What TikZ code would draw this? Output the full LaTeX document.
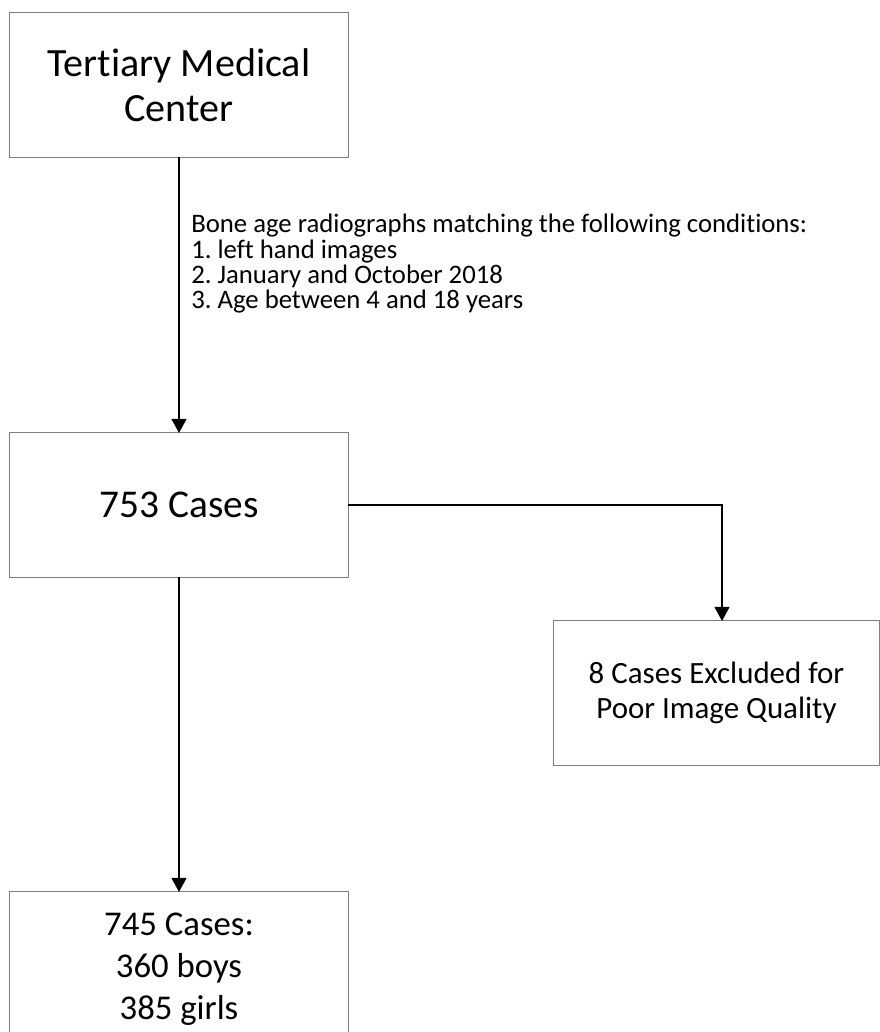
\documentclass[tikz,border=0pt]{standalone}
\usepackage{fontspec}
\setmainfont{Carlito}[Ligatures=NoCommon]
\usetikzlibrary{arrows.meta}
\frenchspacing
\begin{document}
\begin{tikzpicture}[x=0.025cm,y=-0.025cm,
    box/.style={draw=black!50,line width=0.7pt,inner sep=0pt,outer sep=0pt,
      minimum width=8.45cm,minimum height=3.6cm,align=center,
      font=\fontsize{28.5}{32}\selectfont},
    arr/.style={line width=1.4pt,-{Triangle[width=10.5pt,length=10pt]}}]
      \useasboundingbox (0,0) rectangle (880,1032);
      \draw
        (179,85) node[box] (center){Tertiary Medical\\Center}
        (179,505) node[box,font=\fontsize{28}{32}\selectfont] (all){753 Cases}
        (716.5,693) node[box,minimum width=8.125cm,font=\fontsize{22}{25}\selectfont] (excl){8 Cases Excluded for\\Poor Image Quality}
        (179,969.5) node[box,minimum height=3.875cm,font=\fontsize{24.7}{30}\selectfont] (final){745 Cases:\\360 boys\\385 girls};
      \node[anchor=north west,align=left,inner sep=0pt,font=\fontsize{19}{18}\selectfont]
        (cond) at (191,214) {\lineskiplimit=-20pt\relax Bone age radiographs matching the following conditions:\\
        1. left hand images\\2. January and October 2018\\3. Age between 4 and 18 years};
      \coordinate (turn) at (722,505);
      \begin{scope}[arr]
        \draw (center) to (all);
        \draw (all.east) -- (turn) -- (excl.north -| turn);
        \draw (all) to (final);
      \end{scope}
    \end{tikzpicture}
\end{document}
